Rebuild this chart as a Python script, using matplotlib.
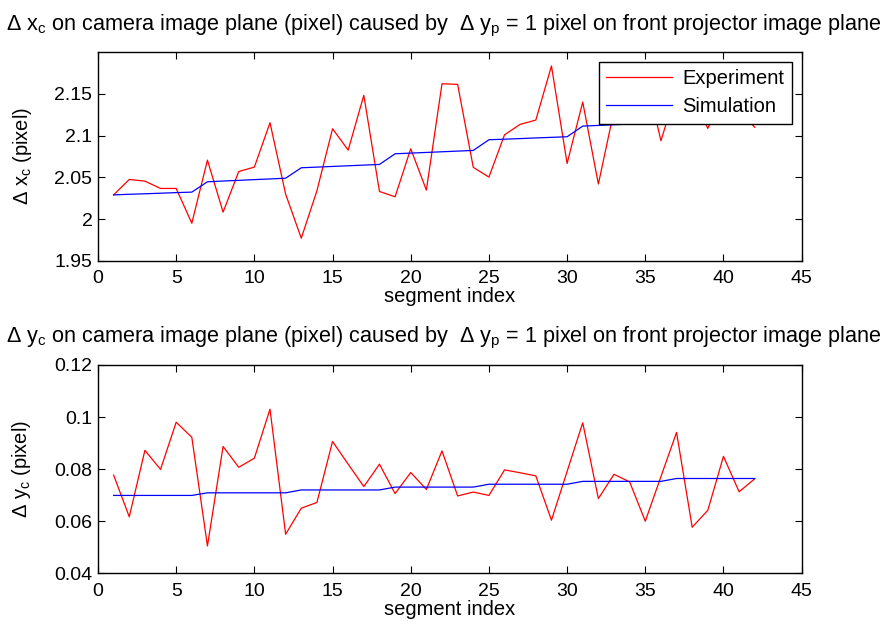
import matplotlib
matplotlib.use("Agg")
import matplotlib.pyplot as plt

plt.rcParams['font.family'] = ['Liberation Sans', 'DejaVu Sans']
plt.rcParams['mathtext.fontset'] = 'custom'
plt.rcParams['mathtext.rm'] = 'Liberation Sans'
plt.rcParams['mathtext.it'] = 'Liberation Sans'

segments = list(range(1, 43))

# delta x_c, experiment and simulation
dx_exp = [2.029, 2.0475, 2.0455, 2.0367, 2.0367, 1.995, 2.0707, 2.0083, 2.057, 2.0623,
          2.1155, 2.0299, 1.977, 2.0339, 2.1083, 2.0827, 2.1484, 2.0331, 2.0267, 2.0843,
          2.0347, 2.1623, 2.1615, 2.062, 2.0503, 2.1011, 2.1136, 2.1187, 2.1836, 2.0667,
          2.1403, 2.042, 2.13, 2.145, 2.175, 2.0939, 2.155, 2.15, 2.1087, 2.15,
          2.131, 2.110]
dx_sim = [2.029, 2.0297, 2.0303, 2.031, 2.0317, 2.0323,
          2.0447, 2.0456, 2.0464, 2.0473, 2.0481, 2.049,
          2.0615, 2.0623, 2.0631, 2.0639, 2.0647, 2.0655,
          2.0783, 2.0791, 2.0799, 2.0807, 2.0815, 2.0823,
          2.0951, 2.0958, 2.0965, 2.0973, 2.098, 2.0987,
          2.1115, 2.1123, 2.1131, 2.1139, 2.1147, 2.1155,
          2.128, 2.1288, 2.1296, 2.1304, 2.1312, 2.132]

# delta y_c, experiment and simulation
dy_exp = [0.0777, 0.0617, 0.0872, 0.0799, 0.098, 0.0922, 0.0505, 0.0887, 0.0807, 0.0842,
          0.103, 0.055, 0.065, 0.0672, 0.0906, 0.0819, 0.0733, 0.0819, 0.0706, 0.0787,
          0.0722, 0.087, 0.0697, 0.0712, 0.0699, 0.0797, 0.0786, 0.0774, 0.0604, 0.0791,
          0.0978, 0.0687, 0.078, 0.0751, 0.060, 0.0771, 0.0941, 0.0577, 0.0642, 0.0849,
          0.0713, 0.0763]
dy_sim = [0.0699] * 6 + [0.0709] * 6 + [0.0720] * 6 + [0.0731] * 6 + \
         [0.0742] * 6 + [0.0753] * 6 + [0.0764] * 6

fig = plt.figure(figsize=(8.86, 6.31), dpi=100)
ax1 = fig.add_axes([0.1106, 0.5868, 0.7942, 0.3303])
ax2 = fig.add_axes([0.1106, 0.0914, 0.7942, 0.3303])

fs_tick = 14
fs_lab = 14.5
fs_title = 15.6
title_x = r'$\Delta$ x$_\mathrm{c}$ on camera image plane (pixel) caused by  $\Delta$ y$_\mathrm{p}$ = 1 pixel on front projector image plane'
title_y = r'$\Delta$ y$_\mathrm{c}$ on camera image plane (pixel) caused by  $\Delta$ y$_\mathrm{p}$ = 1 pixel on front projector image plane'

for ax in (ax1, ax2):
    ax.set_xlim(0, 45)
    ax.set_xticks(range(0, 46, 5))
    ax.tick_params(direction='in', top=True, right=True, length=5, width=0.8,
                   labelsize=fs_tick)
    ax.tick_params(axis='x', pad=7)
    ax.tick_params(axis='y', pad=4)
    for s in ax.spines.values():
        s.set_linewidth(1.0)
    ax.set_xlabel('segment index', fontsize=fs_lab, labelpad=0)

ax1.plot(segments, dx_exp, color='red', lw=0.9, label='Experiment')
ax1.plot(segments, dx_sim, color='blue', lw=0.9, label='Simulation')
ax1.set_ylim(1.95, 2.2)
ax1.set_yticks([1.95, 2.0, 2.05, 2.1, 2.15])
ax1.set_yticklabels(['1.95', '2', '2.05', '2.1', '2.15'])
ax1.set_ylabel(r'$\Delta$ x$_\mathrm{c}$ (pixel)', fontsize=fs_lab, labelpad=15)
ax1.set_title(title_x, fontsize=fs_title, pad=16, x=0.4917)
leg = ax1.legend(loc='upper right', fontsize=fs_lab, fancybox=False, framealpha=1,
                 edgecolor='black', handlelength=3.3, borderaxespad=0.5,
                 labelspacing=0.45, borderpad=0.35, handletextpad=0.5)
leg.get_frame().set_linewidth(1.0)

ax2.plot(segments, dy_exp, color='red', lw=0.9)
ax2.plot(segments, dy_sim, color='blue', lw=0.9)
ax2.set_ylim(0.04, 0.12)
ax2.set_yticks([0.04, 0.06, 0.08, 0.1, 0.12])
ax2.set_yticklabels(['0.04', '0.06', '0.08', '0.1', '0.12'])
ax2.set_ylabel(r'$\Delta$ y$_\mathrm{c}$ (pixel)', fontsize=fs_lab, labelpad=15)
ax2.set_title(title_y, fontsize=fs_title, pad=16, x=0.4917)

fig.savefig('out.png', dpi=100)
